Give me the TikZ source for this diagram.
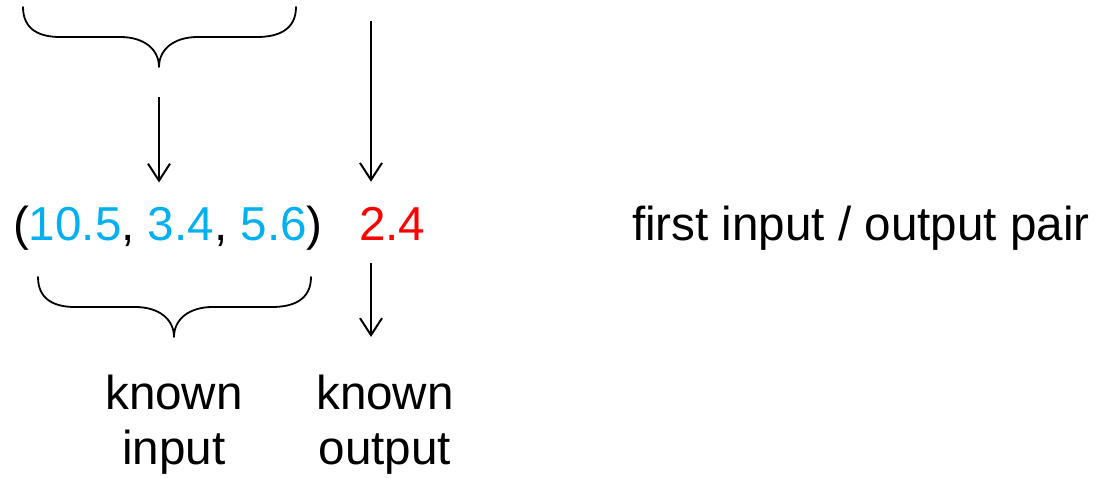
\documentclass[tikz,border=0pt]{standalone}
\usepackage{fontspec}
\setmainfont{Liberation Sans}
\usetikzlibrary{arrows.meta}
\tikzset{
  brc/.pic={
    \path[draw=drawColor,line width= 1.8pt,line join=round,line cap=round] (-136, 60) ..
      controls (-136, 37) and (-119, 30) .. ( -99, 30) -- ( -39, 30) ..
      controls ( -14, 30) and (   0, 17) .. (   0,  0) ..
      controls (   0, 17) and (  14, 30) .. (  39, 30) -- (  98, 30) ..
      controls ( 119, 30) and ( 137, 37) .. ( 137, 60);
  },
  lbl/.style={text=drawColor,inner sep=0pt, outer sep=0pt, font=\fontsize{47.6}{55}\selectfont},
  arr/.style={draw=drawColor,line width= 2pt,-{Straight Barb[length=17pt,width=22pt]}}
}
\begin{document}
\begin{tikzpicture}[x=1pt,y=1pt]
\definecolor{fillColor}{RGB}{255,255,255}
\definecolor{drawColor}{RGB}{0,0,0}
\definecolor{inColor}{RGB}{0,176,240}
\definecolor{outColor}{RGB}{255,0,0}
\path[use as bounding box,fill=fillColor] (0,0) rectangle (1097,477);

% braces
\pic at (159,410) {brc};
\pic at (174,140) {brc};

% input / output pair
\node[lbl,anchor=base west] (tup) at ( 13,236) {(\textcolor{inColor}{10.5}, \textcolor{inColor}{3.4}, \textcolor{inColor}{5.6})};
\node[lbl,anchor=base west,text=outColor] (val) at (359,236) {2.4};
\node[lbl,anchor=base west] (pair) at (632,236) {first input / output pair};

% labels
\node[lbl,anchor=north,align=center] (kin) at (174,102) {known\\input};
\node[lbl,anchor=north,align=center] (kout) at (385,102) {known\\output};

% arrows
\coordinate (a1s) at (159,380);
\coordinate (a2s) at (371,456);
\path[arr,shorten >=24pt] (a1s) -- (a1s |- tup.north);
\path[arr,shorten >=26pt] (a2s) -- (a2s |- val.north);
\path[arr,shorten <=22pt,shorten >=38pt] (a2s |- val.south) -- (a2s |- kout.north);
\end{tikzpicture}
\end{document}
